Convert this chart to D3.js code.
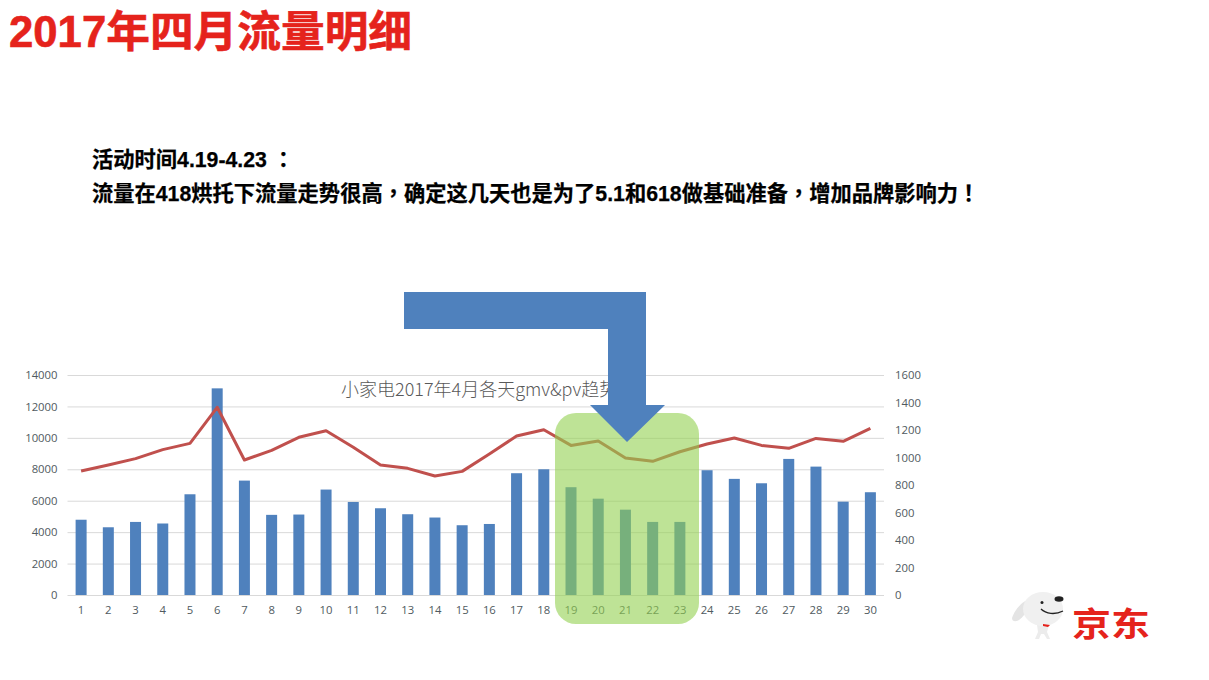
<!DOCTYPE html>
<html><head><meta charset="utf-8">
<script src="https://cdn.jsdelivr.net/npm/d3@7/dist/d3.min.js"></script>
<style>html,body{margin:0;padding:0;background:#fff;overflow:hidden}svg{display:block}</style>
</head><body><svg id="c" width="1209" height="680"></svg>
<script>
const days = d3.range(1,31).map(String);
const gmv = [4790,4310,4650,4550,6410,13150,7280,5100,5120,6710,5920,5520,5140,4930,4440,4520,7750,8000,6860,6130,5430,4650,4650,7940,7390,7110,8660,8170,5940,6540];
const pv = [902,945,992,1057,1103,1365,982,1052,1147,1195,1074,945,921,865,899,1025,1156,1202,1088,1120,996,972,1042,1098,1142,1088,1067,1139,1118,1212];
const leftTicks = [0,2000,4000,6000,8000,10000,12000,14000];
const rightTicks = [0,200,400,600,800,1000,1200,1400,1600];
const pageTitle = "2017年四月流量明细";
const noteLines = ["活动时间4.19-4.23 ：","流量在418烘托下流量走势很高，确定这几天也是为了5.1和618做基础准备，增加品牌影响力！"];
const chartTitle = "小家电2017年4月各天gmv&pv趋势";
const brand = "京东";

const svg = d3.select("#c");
const F = "'Liberation Sans','Noto Sans CJK SC',sans-serif";
const FN = "'Liberation Sans','Noto Sans CJK TC',sans-serif";
const top0=375, bot=595, L=67.5, R=884;
const x = d3.scaleBand().domain(days).range([L,R]);
const yL = d3.scaleLinear().domain([0,14000]).range([bot,top0]);
const yR = d3.scaleLinear().domain([0,1600]).range([bot,top0]);

svg.append("text").attr("x",9).attr("y",47).attr("font-family",F).attr("font-weight",700)
  .attr("font-size",43.7).attr("fill","#e5231c").attr("stroke","#e5231c").attr("stroke-width",.6).text(pageTitle);
svg.selectAll(".note").data(noteLines).join("text").attr("class","note")
  .attr("x",92).attr("y",(d,i)=>167+i*34).attr("font-family",FN).attr("font-weight",700)
  .attr("font-size",21.28).attr("fill","#000").attr("stroke","#000").attr("stroke-width",.25).text(d=>d);

// grid
svg.append("g").selectAll("line").data(leftTicks).join("line")
  .attr("x1",L).attr("x2",R).attr("y1",d=>yL(d)+.5).attr("y2",d=>yL(d)+.5)
  .attr("stroke","#d9d9d9").attr("stroke-width",1);

// axes
const axL = svg.append("g").attr("transform",`translate(${L-10},0)`)
  .call(d3.axisLeft(yL).tickValues(leftTicks).tickSize(0).tickPadding(0).tickFormat(d3.format("d")));
const axR = svg.append("g").attr("transform",`translate(${R+11},0)`)
  .call(d3.axisRight(yR).tickValues(rightTicks).tickSize(0).tickPadding(0).tickFormat(d3.format("d")));
const axB = svg.append("g").attr("transform",`translate(0,${bot+11})`)
  .call(d3.axisBottom(x).tickSize(0).tickPadding(0));
[axL,axR,axB].forEach(a=>{a.select(".domain").remove();
  a.selectAll("text").attr("font-family","'Open Sans','Liberation Sans',sans-serif").attr("font-size",11.3).attr("fill","#505a60");});

// chart title
svg.append("text").attr("x",341).attr("y",396).attr("font-family","'Noto Sans CJK SC',sans-serif")
  .attr("font-weight",300).attr("font-size",18).attr("fill","#595959").text(chartTitle);

// bars
svg.append("g").selectAll("rect").data(days).join("rect")
  .attr("x",d=>x(d)+x.bandwidth()/2-5.5).attr("width",11)
  .attr("y",(d,i)=>yL(gmv[i])).attr("height",(d,i)=>bot-yL(gmv[i]))
  .attr("fill","#4f81bd");

// line
svg.append("path").datum(pv)
  .attr("d",d3.line().x((d,i)=>x(days[i])+x.bandwidth()/2).y(d=>yR(d)))
  .attr("fill","none").attr("stroke","#c0504d").attr("stroke-width",3).attr("stroke-linejoin","round");

// highlight
svg.append("rect").attr("x",555).attr("y",413).attr("width",144).attr("height",211).attr("rx",21)
  .attr("fill","#92d050").attr("fill-opacity",.6);

// arrow
svg.append("path").attr("d","M404,292H646V405H665L627,442L590,405H608V329H404Z").attr("fill","#4f81bd");

// logo
const logo = svg.append("g");
logo.append("path").attr("d","M1028,600C1021,602 1015,610 1012,618C1012,622 1016,622 1019,620C1023,617 1027,612 1029,607Z").attr("fill","#e4e4e4");
logo.append("path").attr("d","M1037,625L1049,625L1047,632L1050,639H1047L1044,634L1041,634L1039,639H1035L1038,632Z").attr("fill","#ececec");
logo.append("ellipse").attr("cx",1043).attr("cy",609).attr("rx",20).attr("ry",17).attr("fill","#f0f0f0");
logo.append("ellipse").attr("cx",1059).attr("cy",599).attr("rx",4.5).attr("ry",2.8).attr("fill","#222");
logo.append("circle").attr("cx",1042).attr("cy",602.5).attr("r",1.5).attr("fill","#222");
logo.append("path").attr("d","M1041,609C1046,614 1055,615 1063,611").attr("fill","none").attr("stroke","#222").attr("stroke-width",1.3);
logo.append("path").attr("d","M1043,624L1050,625L1048,627L1043,626Z").attr("fill","#e5231c");
logo.append("text").attr("transform","translate(1072,636) scale(1,0.86)").attr("font-family","'Noto Sans CJK SC',sans-serif")
  .attr("font-weight",700).attr("font-size",39).attr("fill","#e5231c").text(brand);
</script></body></html>
